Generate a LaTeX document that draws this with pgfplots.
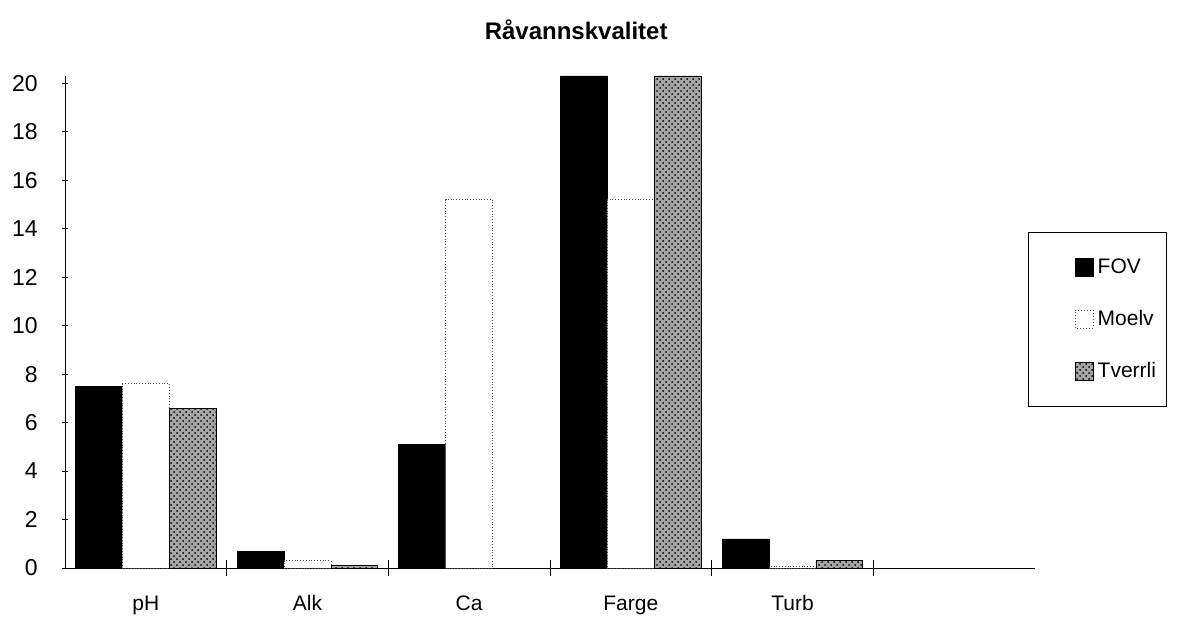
\documentclass[border=0pt]{standalone}
\usepackage{fontspec}
\setmainfont{Liberation Sans}
\usepackage{pgfplots}
\pgfplotsset{compat=1.18}
\usetikzlibrary{patterns}

\begin{document}
\begin{tikzpicture}
\useasboundingbox (0,0) rectangle (601.5pt,308pt);
\begin{axis}[
    at={(32.5pt,24pt)}, anchor=south west,
    width=485pt, height=246pt, scale only axis,
    ymin=0, ymax=20.3,
    xmin=-0.5, xmax=5.5,
    axis x line*=bottom, axis y line*=left,
    axis line style={black, line width=0.5pt},
    ybar, bar width=0.29,
    xtick={0,1,2,3,4},
    xticklabels={pH, Alk, Ca, Farge, Turb},
    major x tick style={draw=none},
    minor xtick={0.5,1.5,2.5,3.5,4.5},
    minor tick length=8pt,
    tick align=center,
    ytick={0,2,...,20},
    major tick length=3pt,
    tick style={black, line width=0.4pt},
    /pgf/number format/assume math mode=true,
    xticklabel style={font=\fontsize{10.5}{12}\selectfont, anchor=base, yshift=-19.5pt},
    yticklabel style={font=\fontsize{11.5}{13}\selectfont, anchor=east, inner sep=0pt, xshift=-12pt},
    title={Råvannskvalitet},
    title style={at={(0.527,1.069)}, anchor=center, font=\bfseries\fontsize{12}{14}\selectfont},
    legend style={at={(0.993,0.683)}, anchor=north west, draw=black, line width=0.5pt,
        font=\fontsize{10.5}{12}\selectfont, inner xsep=3pt, inner ysep=11pt, row sep=13pt,
        legend cell align=left},
    legend image code/.code={\path (0pt,0pt); \draw[#1] (20pt,-4.5pt) rectangle (29pt,4.5pt);},
]
\addplot[fill=black, draw=black, bar shift=-0.29] coordinates {(0,7.5) (1,0.7) (2,5.1) (3,20.3) (4,1.2)};
\addplot[fill=white, draw=black!70, densely dotted, bar shift=0] coordinates {(0,7.6) (1,0.3) (2,15.2) (3,15.2) (4,0.05)};
\addplot[fill=black!35, postaction={pattern=crosshatch dots, pattern color=black}, draw=black, bar shift=0.29] coordinates {(0,6.6) (1,0.1) (2,0) (3,20.3) (4,0.3)};
\legend{FOV, Moelv, Tverrli}
\end{axis}
\end{tikzpicture}
\end{document}
